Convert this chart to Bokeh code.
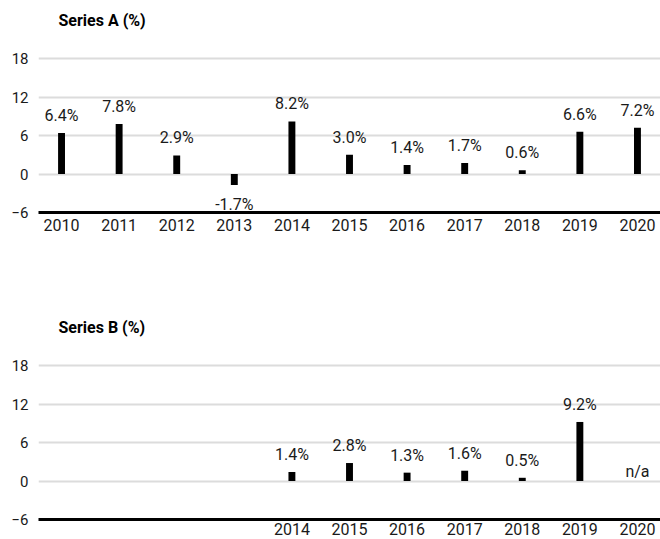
from bokeh.plotting import figure
from bokeh.models import Range1d, FixedTicker, ColumnDataSource, LabelSet, Label
from bokeh.layouts import column
from bokeh.core.properties import value
from bokeh.embed import file_html
from bokeh.resources import INLINE

years = ["2010", "2011", "2012", "2013", "2014", "2015", "2016", "2017", "2018", "2019", "2020"]
series_a = [6.4, 7.8, 2.9, -1.7, 8.2, 3.0, 1.4, 1.7, 0.6, 6.6, 7.2]
b_years = ["2014", "2015", "2016", "2017", "2018", "2019", "2020"]
series_b = [1.4, 2.8, 1.3, 1.6, 0.5, 9.2, None]
y_ticks = [-6, 0, 6, 12, 18]

FONT = "Roboto"
TXT = "#1a1a1a"
W = 660
LEFT = 38
X0, X1 = -0.4, 10.4
PX_PER_UNIT_Y = 154 / 24.0
TITLE_ABOVE_BASE = 192  # px from the bottom line to the title centre


def make_panel(title, cats, vals, height, bottom_border, x_standoff):
    frame_h = height - bottom_border
    y0 = y_ticks[0]
    y1 = y0 + frame_h / PX_PER_UNIT_Y
    p = figure(width=W, height=height, output_backend="svg", toolbar_location=None,
               x_range=Range1d(X0, X1), y_range=Range1d(y0, y1),
               min_border_left=LEFT, min_border_right=0,
               min_border_top=0, min_border_bottom=bottom_border)
    p.outline_line_color = None
    p.background_fill_color = "white"
    p.border_fill_color = "white"

    px_per_unit_x = (W - LEFT) / (X1 - X0)
    p.add_layout(Label(x=X0 + 20 / px_per_unit_x, y=y0 + TITLE_ABOVE_BASE / PX_PER_UNIT_Y,
                       text=title, text_font=FONT, text_font_size="16px",
                       text_font_style="bold", text_color="black",
                       text_baseline="middle", text_align="left"))

    xs = [years.index(c) for c in cats]
    bx = [x for x, v in zip(xs, vals) if v is not None]
    bv = [v for v in vals if v is not None]
    p.vbar(x=bx, top=bv, bottom=0, width=0.12, fill_color="black", line_color=None)

    pos = ColumnDataSource(dict(x=[x for x, v in zip(bx, bv) if v >= 0],
                                y=[v for v in bv if v >= 0],
                                t=[f"{v:.1f}%" for v in bv if v >= 0]))
    neg = ColumnDataSource(dict(x=[x for x, v in zip(bx, bv) if v < 0],
                                y=[v for v in bv if v < 0],
                                t=[f"{v:.1f}%" for v in bv if v < 0]))
    na = ColumnDataSource(dict(x=[x for x, v in zip(xs, vals) if v is None],
                               y=[0 for v in vals if v is None],
                               t=["n/a" for v in vals if v is None]))
    for src, base, off in ((pos, "alphabetic", 12), (neg, "top", -10), (na, "alphabetic", 4)):
        p.add_layout(LabelSet(x="x", y="y", text="t", source=src, text_align="center",
                              text_baseline=base, y_offset=off, text_font=value(FONT),
                              text_font_size="16px", text_color=TXT))

    p.xgrid.grid_line_color = None
    p.ygrid.grid_line_color = "#dcdcdc"
    p.ygrid.grid_line_width = 2
    p.ygrid.ticker = FixedTicker(ticks=y_ticks)

    p.xaxis.ticker = FixedTicker(ticks=xs)
    p.xaxis.major_label_overrides = {i: years[i] for i in xs}
    p.xaxis.axis_line_width = 3
    p.xaxis.axis_line_color = "black"
    p.xaxis.major_tick_line_color = None
    p.xaxis.minor_tick_line_color = None
    p.xaxis.major_tick_out = 0
    p.xaxis.major_label_standoff = x_standoff
    p.xaxis.major_label_text_font = FONT
    p.xaxis.major_label_text_font_size = "16px"
    p.xaxis.major_label_text_color = TXT

    p.yaxis.ticker = FixedTicker(ticks=y_ticks)
    p.yaxis.axis_line_color = None
    p.yaxis.major_tick_line_color = None
    p.yaxis.minor_tick_line_color = None
    p.yaxis.major_tick_out = 0
    p.yaxis.major_label_standoff = 10
    p.yaxis.major_label_text_font = FONT
    p.yaxis.major_label_text_font_size = "15px"
    p.yaxis.major_label_text_color = TXT
    return p


p1 = make_panel("Series A (%)", years, series_a, 248, 36, 6)
p2 = make_panel("Series B (%)", b_years, series_b, 291, 20, 3)
layout = column(p1, p2, spacing=0)

open("out.html", "w").write(file_html(layout, INLINE))
